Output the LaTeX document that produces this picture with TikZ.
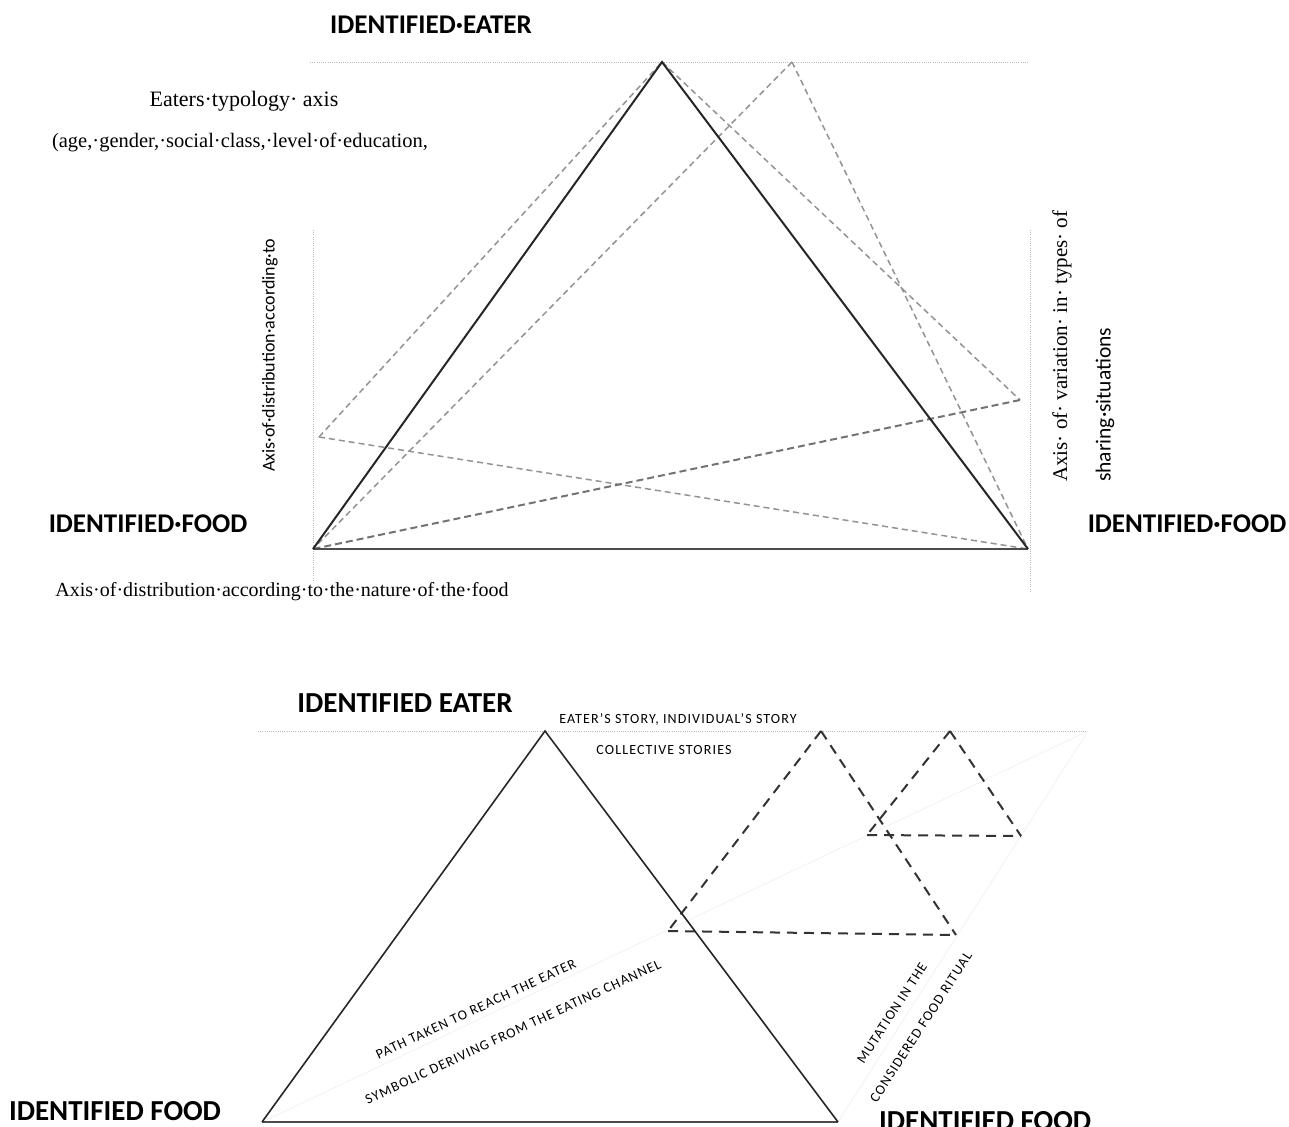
\documentclass[tikz,border=0pt]{standalone}
\usepackage{fontspec}
\setmainfont{Liberation Serif}
\newfontfamily\calibri{Carlito}
\newfontfamily\calibrisp[LetterSpace=8]{Carlito}
\begin{document}
\begin{tikzpicture}[x=1pt,y=-1pt,
  solidedge/.style={line width=2pt, black!85, line join=miter},
  baseedge/.style={line width=2.8pt, black!70},
  guide/.style={gray!55, line width=0.9pt, dash pattern=on 1pt off 1.2pt},
  topdash/.style={gray!85, dash pattern=on 6pt off 4pt, line width=1.5pt},
  topdashdark/.style={gray!90!black, dash pattern=on 7pt off 4pt, line width=2pt},
  botdash/.style={black!80, dash pattern=on 10pt off 7pt, line width=2pt},
  faint/.style={gray!10, line width=0.8pt},
  head/.style={font=\calibri\bfseries\fontsize{27}{30}\selectfont, inner sep=0pt},
  serifnote/.style={font=\fontsize{20}{24}\selectfont, inner sep=0pt},
  sansnote/.style={font=\calibri\fontsize{18}{22}\selectfont, inner sep=0pt},
  capnote/.style={font=\calibrisp\fontsize{14}{16}\selectfont, inner sep=0pt}
]
\useasboundingbox (0,0) rectangle (1289,1126);

% ---------------- top diagram ----------------
\coordinate (A) at (662,62);
\coordinate (L) at (313,549);
\coordinate (R) at (1028,549);
\coordinate (A2) at (792,62);
\coordinate (P) at (319,437);
\coordinate (Q) at (1020,400);
\coordinate (hl) at (310,62);
\coordinate (hr) at (1028,62);
\coordinate (vlt) at (313,230);
\coordinate (vlb) at (313,580);
\coordinate (vrt) at (1030,230);
\coordinate (vrb) at (1030,592);

\draw[guide] (hl) -- (hr);
\draw[guide] (vlt) -- (vlb);
\draw[guide] (vrt) -- (vrb);

\draw[topdash] (P) -- (A);
\draw[topdash] (P) -- (R);
\draw[topdash] (A) -- (Q);
\draw[topdashdark] (Q) -- (L);
\draw[topdash] (A2) -- (L);
\draw[topdash] (A2) -- (R);

\draw[baseedge] (L) -- (R);
\draw[solidedge] (L) -- (A) -- (R);

\node[head] (eater1) at (431,25) {IDENTIFIED·EATER};
\node[head] (foodL1) at (148,524) {IDENTIFIED·FOOD};
\node[head] (foodR1) at (1187,524) {IDENTIFIED·FOOD};
\node[serifnote, font=\fontsize{22}{26}\selectfont] (typo) at (244,101) {Eaters·typology· axis};
\node[serifnote, font=\fontsize{20.5}{24}\selectfont] (age) at (240,142) {(age,·gender,·social·class,·level·of·education,};
\node[serifnote] (nature) at (282,592) {Axis·of·distribution·according·to·the·nature·of·the·food};
\node[sansnote, rotate=90, anchor=west] (distr) at (270,472) {Axis·of·distribution·according·to};
\node[serifnote, font=\fontsize{21}{24}\selectfont, rotate=90, anchor=west] (vari) at (1062,482) {Axis· of· variation· in· types· of};
\node[sansnote, font=\calibri\fontsize{21.5}{24}\selectfont, rotate=90, anchor=west] (share) at (1105,482) {sharing·situations};

% ---------------- bottom diagram ----------------
\coordinate (B) at (545,731);
\coordinate (BL) at (262,1122);
\coordinate (BR) at (838,1122);
\coordinate (F) at (1088,731);
\coordinate (hl2) at (258,731);
\coordinate (TA) at (821,731);
\coordinate (TAl) at (668,931);
\coordinate (TAr) at (956,935);
\coordinate (TB) at (950,731);
\coordinate (TBl) at (867,835);
\coordinate (TBr) at (1021,836);

\draw[guide] (hl2) -- (F);
\draw[faint] (BL) -- (F);
\draw[faint] (BR) -- (F);

\draw[botdash] (TA) -- (TAl);
\draw[botdash] (TA) -- (TAr);
\draw[botdash] (TAl) -- (TAr);
\draw[botdash] (TB) -- (TBl);
\draw[botdash] (TB) -- (TBr);
\draw[botdash] (TBl) -- (TBr);

\draw[baseedge] (BL) -- (BR);
\draw[solidedge, line width=1.6pt] (BL) -- (B) -- (BR);

\node[head, font=\calibri\bfseries\fontsize{29}{32}\selectfont] (eater2) at (405,703) {IDENTIFIED EATER};
\node[head, font=\calibri\bfseries\fontsize{29}{32}\selectfont] (foodL2) at (115,1111) {IDENTIFIED FOOD};
\node[head, font=\calibri\bfseries\fontsize{29}{32}\selectfont, anchor=west] (foodR2) at (879,1121) {IDENTIFIED FOOD};
\node[capnote] (story) at (678,719) {EATER’S STORY, INDIVIDUAL’S STORY};
\node[capnote] (coll) at (664,750) {COLLECTIVE STORIES};
\node[capnote, rotate=25] (path) at (476,1009) {PATH TAKEN TO REACH THE EATER};
\node[capnote, rotate=25] (symb) at (513,1032) {SYMBOLIC DERIVING FROM THE EATING CHANNEL};
\node[capnote, rotate=57] (mut) at (892,1013) {MUTATION IN THE};
\node[capnote, rotate=57] (cons) at (921,1027) {CONSIDERED FOOD RITUAL};
\end{tikzpicture}
\end{document}
